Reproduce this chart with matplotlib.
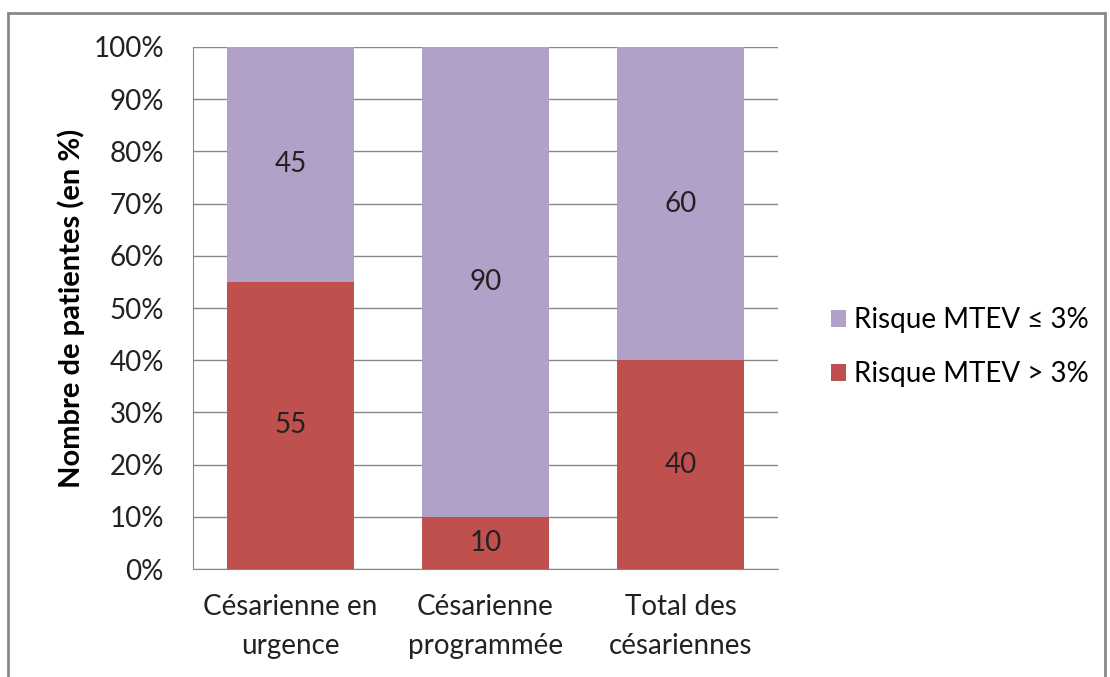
import matplotlib.pyplot as plt
from matplotlib.patches import Rectangle

categories = ['Césarienne en\nurgence', 'Césarienne\nprogrammée', 'Total des\ncésariennes']
risque_haut = [55, 10, 40]   # Risque MTEV > 3%
risque_bas = [45, 90, 60]    # Risque MTEV ≤ 3%

plt.rcParams['font.family'] = ['Lato', 'DejaVu Sans']

fig = plt.figure(figsize=(11.1, 6.77), dpi=100)
ax = fig.add_axes([0.1739, 0.1595, 0.527, 0.7711])

x = range(len(categories))
b1 = ax.bar(x, risque_haut, width=0.65, color='#C0504D', label='Risque MTEV > 3%', zorder=3)
b2 = ax.bar(x, risque_bas, width=0.65, bottom=risque_haut, color='#B1A0C7',
            label='Risque MTEV ≤ 3%', zorder=3)

for i in x:
    ax.text(i, risque_haut[i] / 2, str(risque_haut[i]), ha='center', va='center',
            fontsize=20, color='#222222', zorder=4)
    ax.text(i, risque_haut[i] + risque_bas[i] / 2, str(risque_bas[i]), ha='center',
            va='center', fontsize=20, color='#222222', zorder=4)

ax.set_xlim(-0.5, 2.5)
ax.set_ylim(0, 100)
ax.set_yticks(range(0, 101, 10))
ax.set_yticklabels([f'{v}%' for v in range(0, 101, 10)])
ax.set_xticks(list(x))
ax.set_xticklabels(categories, linespacing=1.6)
ax.tick_params(axis='both', length=0, labelsize=20, colors='#222222')
ax.tick_params(axis='y', pad=21)
ax.tick_params(axis='x', pad=18)
ax.grid(axis='y', color='#888888', linewidth=1, zorder=0)
for s in ['top', 'right']:
    ax.spines[s].set_visible(False)
for s in ['left', 'bottom']:
    ax.spines[s].set_color('#888888')
ax.set_ylabel('Nombre de patientes (en %)', fontsize=21, fontweight='bold', labelpad=6)

handles = [b2, b1]
fig.legend(handles, [h.get_label() for h in handles], loc='center left',
           bbox_to_anchor=(0.726, 0.487), frameon=False, fontsize=20,
           handlelength=0.55, handleheight=0.55, handletextpad=0.3, labelspacing=1.0)

fig.patches.append(Rectangle((8 / 1110, -0.05), 1097 / 1110, 1 - 13 / 677 + 0.05,
                             transform=fig.transFigure, fill=False,
                             edgecolor='#888888', linewidth=2))

fig.savefig('out.png', dpi=100)
